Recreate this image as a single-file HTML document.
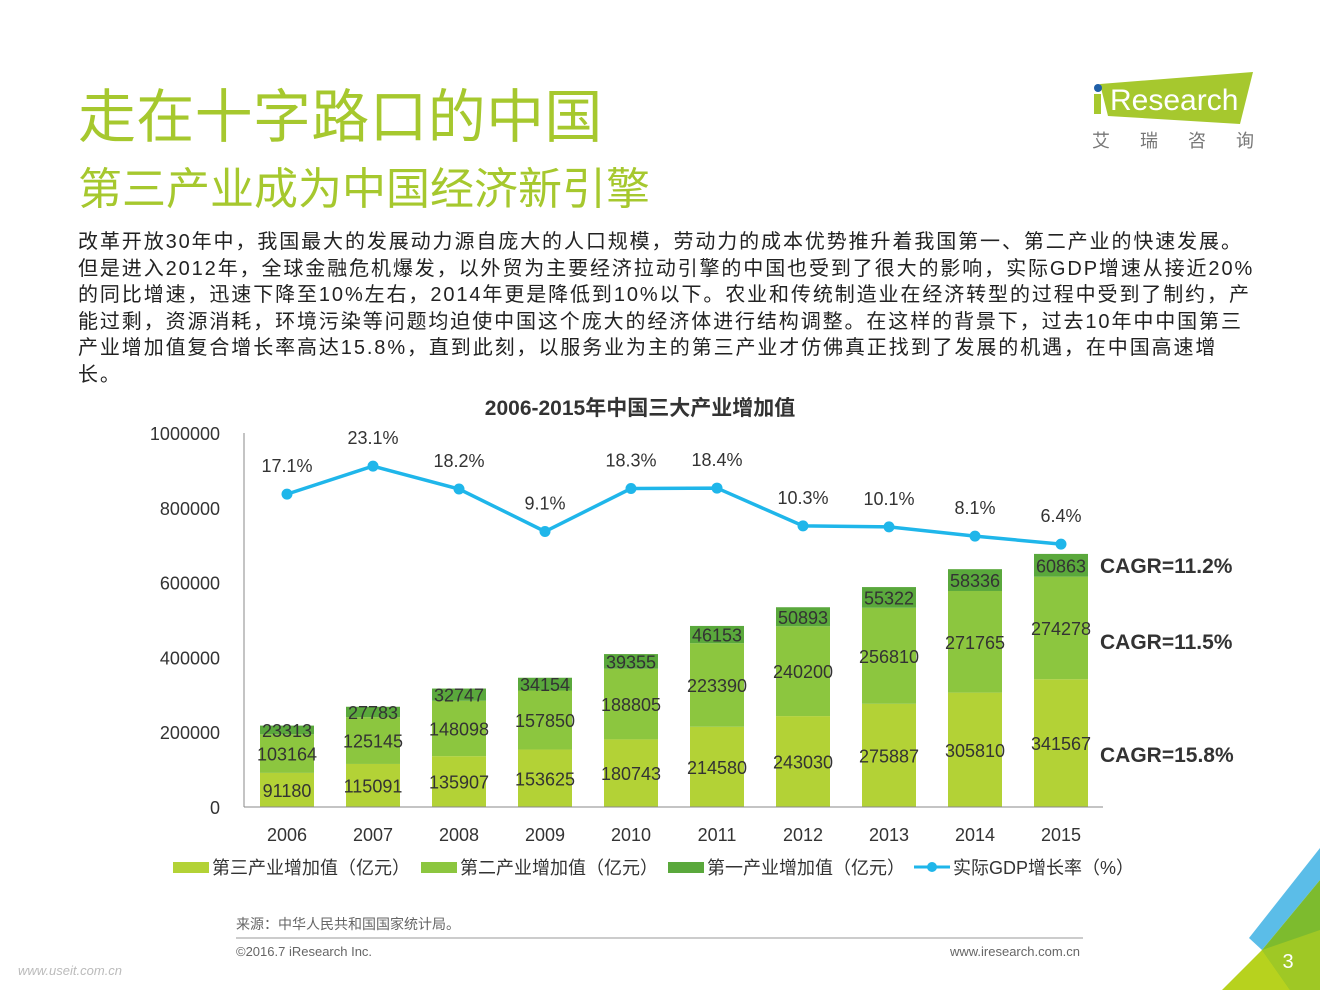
<!DOCTYPE html>
<html><head><meta charset="utf-8">
<style>
body{margin:0;width:1320px;height:990px;background:#fff;overflow:hidden;position:relative;font-family:"Liberation Sans","Noto Sans CJK SC",sans-serif;}
.abs{position:absolute;}
#title{left:78px;top:70px;font-size:58px;color:#a6c82e;letter-spacing:0.3px;}
#sub{left:78px;top:153px;font-size:44px;color:#a6c82e;}
#para{left:78px;top:229px;width:1220px;font-size:20px;line-height:26.5px;color:#222;white-space:nowrap;letter-spacing:1.9px;}
</style></head><body>
<div class="abs" id="title">走在十字路口的中国</div>
<div class="abs" id="sub">第三产业成为中国经济新引擎</div>
<div class="abs" id="para">改革开放30年中，我国最大的发展动力源自庞大的人口规模，劳动力的成本优势推升着我国第一、第二产业的快速发展。<br>但是进入2012年，全球金融危机爆发，以外贸为主要经济拉动引擎的中国也受到了很大的影响，实际GDP增速从接近20%<br>的同比增速，迅速下降至10%左右，2014年更是降低到10%以下。农业和传统制造业在经济转型的过程中受到了制约，产<br>能过剩，资源消耗，环境污染等问题均迫使中国这个庞大的经济体进行结构调整。在这样的背景下，过去10年中中国第三<br>产业增加值复合增长率高达15.8%，直到此刻，以服务业为主的第三产业才仿佛真正找到了发展的机遇，在中国高速增<br>长。</div>
<svg class="abs" style="left:0;top:0" width="1320" height="990">
<g>
<polygon points="1100,84 1253,72 1240,124 1108,116" fill="#a6c82e"/>
<circle cx="1098" cy="88" r="4" fill="#1f5fa8"/>
<rect x="1094" y="94" width="7" height="20" fill="#a6c82e"/>
<text x="1110" y="110" font-size="30" fill="#fff" font-family="Liberation Sans, sans-serif">Research</text>
<text x="1092" y="147" font-size="18" fill="#777" letter-spacing="30">艾瑞咨询</text>
</g>
<text x="640" y="415" font-size="21" font-weight="bold" fill="#333" text-anchor="middle">2006-2015年中国三大产业增加值</text>
<g id="yaxis"></g><g id="bars"></g><g id="line"></g>
<line x1="244" y1="433" x2="244" y2="807" stroke="#888"/>
<line x1="244" y1="807" x2="1103" y2="807" stroke="#888"/>
<g font-size="21" font-weight="bold" fill="#333">
<text x="1100" y="573">CAGR=11.2%</text><text x="1100" y="649">CAGR=11.5%</text><text x="1100" y="762">CAGR=15.8%</text>
</g>
<g font-size="18" fill="#333">
<rect x="173" y="862" width="36" height="11" fill="#b3d236"/><text x="212" y="874">第三产业增加值（亿元）</text>
<rect x="421" y="862" width="36" height="11" fill="#8cc63f"/><text x="460" y="874">第二产业增加值（亿元）</text>
<rect x="668" y="862" width="36" height="11" fill="#5aa83c"/><text x="707" y="874">第一产业增加值（亿元）</text>
<line x1="914" y1="867" x2="950" y2="867" stroke="#1fb6ea" stroke-width="3"/><circle cx="932" cy="867" r="5" fill="#1fb6ea"/><text x="953" y="874">实际GDP增长率（%）</text>
</g>
<text x="236" y="929" font-size="14" fill="#666">来源：中华人民共和国国家统计局。</text>
<line x1="236" y1="938" x2="1083" y2="938" stroke="#999"/>
<text x="236" y="956" font-size="13" fill="#666">©2016.7 iResearch Inc.</text>
<text x="1080" y="956" font-size="13" fill="#666" text-anchor="end">www.iresearch.com.cn</text>
<text x="18" y="975" font-size="13" fill="#bbb" font-style="italic">www.useit.com.cn</text>
<g>
<polygon points="1320,848 1249,938 1262,950 1320,880" fill="#5bbde8"/>
<polygon points="1262,950 1320,880 1320,990 1250,990" fill="#7dbb2e"/>
<polygon points="1222,990 1262,950 1290,990" fill="#b7d21e"/>
<polygon points="1262,950 1320,930 1320,990 1290,990" fill="#9fc825"/>
<text x="1288" y="968" font-size="20" fill="#fff" text-anchor="middle">3</text>
</g>
</svg>
<script>
const years=["2006","2007","2008","2009","2010","2011","2012","2013","2014","2015"];
const tertiary=[91180,115091,135907,153625,180743,214580,243030,275887,305810,341567];
const secondary=[103164,125145,148098,157850,188805,223390,240200,256810,271765,274278];
const primary=[23313,27783,32747,34154,39355,46153,50893,55322,58336,60863];
const gdpGrowth=[17.1,23.1,18.2,9.1,18.3,18.4,10.3,10.1,8.1,6.4];
const yTicks=[0,200000,400000,600000,800000,1000000];
const NS="http://www.w3.org/2000/svg";
const y=v=>807-v*374/1000000;
const x=i=>287+i*86;
const yr=v=>574-v*4.67;
function mk(tag,attrs,parent,txt){const e=document.createElementNS(NS,tag);for(const k in attrs)e.setAttribute(k,attrs[k]);if(txt!==undefined)e.textContent=txt;parent.appendChild(e);return e;}
const ya=document.getElementById('yaxis'),bg=document.getElementById('bars'),lg=document.getElementById('line');
yTicks.forEach(t=>{const e=mk('text',{x:220,y:y(t)+7,'font-size':18,fill:'#333','text-anchor':'end'},ya,String(t));

});
years.forEach((yrs,i)=>{
 const segs=[[tertiary[i],'#b3d236',0],[secondary[i],'#8cc63f',tertiary[i]],[primary[i],'#5aa83c',tertiary[i]+secondary[i]]];
 segs.forEach((s,j)=>{
  const r=mk('rect',{x:x(i)-27,y:y(s[2]+s[0]),width:54,height:y(s[2])-y(s[2]+s[0]),fill:s[1]},bg);
  
  
  const t=mk('text',{x:x(i),y:(y(s[2])+y(s[2]+s[0]))/2+7,'font-size':18,fill:'#333','text-anchor':'middle'},bg,String(s[0]));
  
  
 });
 const xl=mk('text',{x:x(i),y:841,'font-size':18,fill:'#333','text-anchor':'middle'},bg,yrs);
 
 
});
const pl=mk('polyline',{points:gdpGrowth.map((v,i)=>x(i)+','+yr(v)).join(' '),fill:'none',stroke:'#1fb6ea','stroke-width':3.5},lg);


gdpGrowth.forEach((v,i)=>{
 const c=mk('circle',{cx:x(i),cy:yr(v),r:5.5,fill:'#1fb6ea'},lg);
 
 
 const t=mk('text',{x:x(i),y:yr(v)-22,'font-size':18,fill:'#333','text-anchor':'middle'},lg,v.toFixed(1)+'%');
 
 
});
</script>
</body></html>
